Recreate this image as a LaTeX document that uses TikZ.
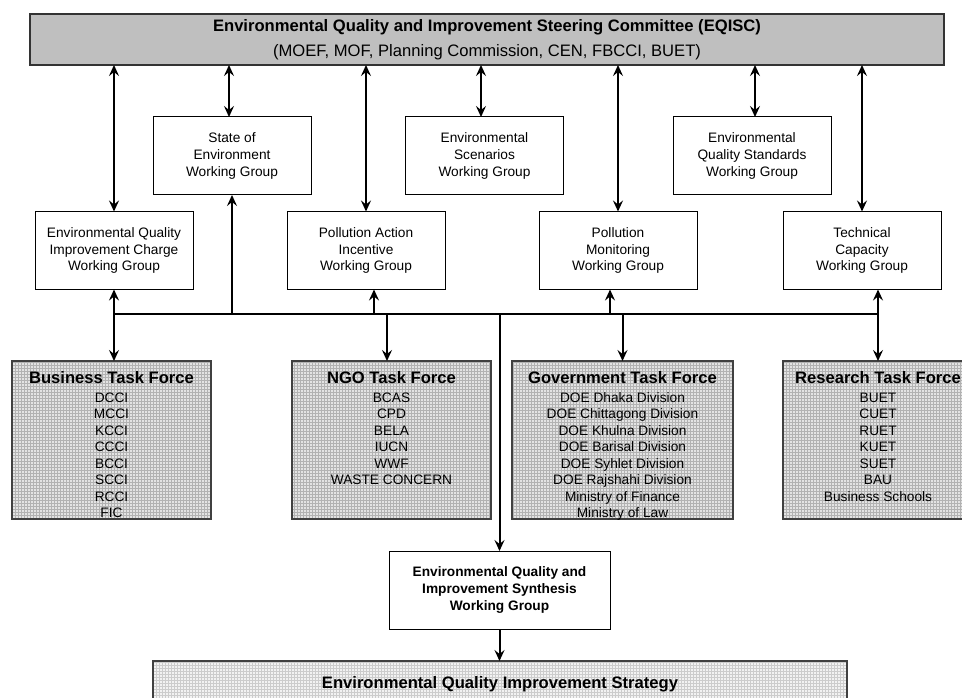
\documentclass[tikz,border=0pt]{standalone}
\usepackage{fontspec}
\setmainfont{Liberation Sans}
\usetikzlibrary{arrows.meta,patterns,calc}
\begin{document}
\begin{tikzpicture}[x=1pt,y=-1pt,
  >={Stealth[length=11pt,width=10pt,inset=4pt]},
  every node/.style={inner sep=0pt,outer sep=0pt,align=center},
  topbox/.style={draw=black!80,line width=1.3pt,fill=gray!50,minimum width=914pt,minimum height=51pt,
    font=\fontsize{16.6}{25}\selectfont},
  wg/.style={draw=black,line width=1pt,fill=white,minimum width=158pt,minimum height=78pt,
    font=\fontsize{13.7}{16.8}\selectfont},
  syn/.style={draw=black,line width=1pt,fill=white,minimum width=221pt,minimum height=78pt,
    font=\bfseries\fontsize{13.7}{17}\selectfont},
  tf/.style={draw=black!75,line width=1.2pt,preaction={fill=gray!22},pattern=grid,pattern color=gray!60},
  strat/.style={draw=black!75,line width=1.2pt,preaction={fill=gray!10},pattern=grid,pattern color=gray!40,
    minimum width=694pt,minimum height=46pt,font=\bfseries\fontsize{16.6}{20}\selectfont},
  conn/.style={line width=2pt}
]
\useasboundingbox (0,0) rectangle (962,698);
\clip (0,0) rectangle (962,698);

\newcommand{\tfbox}[3]{\parbox[c][158pt][t]{#1}{\centering
  \fontsize{13.7}{16.5}\selectfont{\bfseries\fontsize{16.6}{16.5}\selectfont\rule{0pt}{22pt}#2}\\[2.5pt]#3}}

% top committee
\node[topbox] (top) at (487,39.5) {{\bfseries Environmental Quality and Improvement Steering Committee (EQISC)}\\(MOEF, MOF, Planning Commission, CEN, FBCCI, BUET)};

% working groups, upper row
\node[wg] (soe) at (232,156) {State of\\Environment\\Working Group};
\node[wg] (scen) at (484.5,156) {Environmental\\Scenarios\\Working Group};
\node[wg] (eqs) at (752,156) {Environmental\\Quality Standards\\Working Group};

% working groups, lower row
\node[wg] (eqic) at (114,250.5) {Environmental Quality\\Improvement Charge\\Working Group};
\node[wg] (pa) at (366,250.5) {Pollution Action\\Incentive\\Working Group};
\node[wg] (pm) at (618,250.5) {Pollution\\Monitoring\\Working Group};
\node[wg] (tc) at (862,250.5) {Technical\\Capacity\\Working Group};

% task forces
\node[tf] (btf) at (111.5,440) {\tfbox{199pt}{Business Task Force}{DCCI\\MCCI\\KCCI\\CCCI\\BCCI\\SCCI\\RCCI\\FIC}};
\node[tf] (ntf) at (391.5,440) {\tfbox{199pt}{NGO Task Force}{BCAS\\CPD\\BELA\\IUCN\\WWF\\WASTE CONCERN}};
\node[tf] (gtf) at (622.5,440) {\tfbox{221pt}{Government Task Force}{DOE Dhaka Division\\DOE Chittagong Division\\DOE Khulna Division\\DOE Barisal Division\\DOE Syhlet Division\\DOE Rajshahi Division\\Ministry of Finance\\Ministry of Law}};
\node[tf] (rtf) at (878,440) {\tfbox{190pt}{Research Task Force}{BUET\\CUET\\RUET\\KUET\\SUET\\BAU\\Business Schools}};

% synthesis and strategy
\node[syn] (synth) at (499.5,590) {Environmental Quality and\\Improvement Synthesis\\Working Group};
\node[strat] (strategy) at (500,684) {Environmental Quality Improvement Strategy};

% committee <-> working groups
\draw[conn,<->] (top.south -| eqic.north) -- (eqic.north);
\draw[conn,<->] ($(top.south -| soe.north)+(-3,0)$) -- ($(soe.north)+(-3,0)$);
\draw[conn,<->] (top.south -| pa.north) -- (pa.north);
\draw[conn,<->] ($(top.south -| scen.north)+(-3.5,0)$) -- ($(scen.north)+(-3.5,0)$);
\draw[conn,<->] (top.south -| pm.north) -- (pm.north);
\draw[conn,<->] ($(top.south -| eqs.north)+(3,0)$) -- ($(eqs.north)+(3,0)$);
\draw[conn,<->] (top.south -| tc.north) -- (tc.north);

% bus
\coordinate (busL) at (114,314);
\coordinate (busR) at (878,314);
\draw[conn,line cap=rect] (busL) -- (busR);

% bus -> working groups
\draw[conn,->] (eqic.south |- busL) -- (eqic.south);
\draw[conn,->] (soe.south |- busL) -- (soe.south);
\draw[conn,->] ($(pa.south |- busL)+(8,0)$) -- ($(pa.south)+(8,0)$);
\draw[conn,->] ($(pm.south |- busL)+(-8,0)$) -- ($(pm.south)+(-8,0)$);
\draw[conn,->] (busR) -- (busR |- tc.south);

% bus -> task forces
\draw[conn,->] (busL) -- (busL |- btf.north);
\draw[conn,->] ($(ntf.north |- busL)+(-4.5,0)$) -- ($(ntf.north)+(-4.5,0)$);
\draw[conn,->] (gtf.north |- busL) -- (gtf.north);
\draw[conn,->] (busR) -- (busR |- rtf.north);

% bus -> synthesis -> strategy
\draw[conn,->] (synth.north |- busL) -- (synth.north);
\draw[conn,->] (synth.south) -- (synth.south |- strategy.north);
\end{tikzpicture}
\end{document}
